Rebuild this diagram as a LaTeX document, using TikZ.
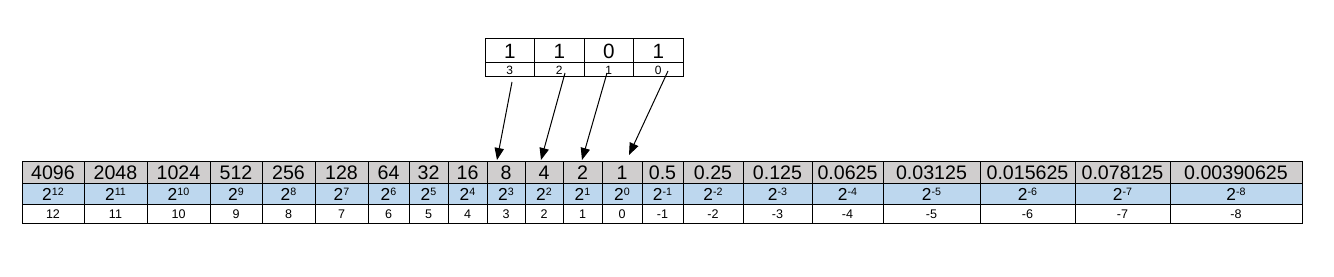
\documentclass[tikz,border=0pt]{standalone}
\usepackage{fontspec}
\setmainfont{Liberation Sans}
\usetikzlibrary{arrows.meta}
\definecolor{hdrgray}{HTML}{D0CECE}
\definecolor{expblue}{HTML}{BDD7EE}
\newcommand{\pwtwo}[1]{2\raisebox{3.6pt}{\fontsize{8}{9}\selectfont #1}}
\begin{document}
\begin{tikzpicture}[x=0.75pt,y=-0.75pt,
  cell/.style={draw=black, line width=0.75pt, inner sep=0pt, outer sep=0pt, anchor=center},
  valcell/.style={cell, fill=hdrgray, minimum height=16.5pt, font=\fontsize{14.7}{16}\selectfont},
  expcell/.style={cell, fill=expblue, minimum height=15.75pt, font=\fontsize{13}{14}\selectfont},
  idxcell/.style={cell, fill=white, minimum height=14.25pt, font=\fontsize{9.4}{10}\selectfont},
  bitcell/.style={cell, fill=white, minimum width=37.125pt, minimum height=18pt, font=\fontsize{15.5}{16}\selectfont},
  poscell/.style={cell, fill=white, minimum width=37.125pt, minimum height=10.5pt, font=\fontsize{9}{10}\selectfont},
  link/.style={draw=black, line width=0.75pt, -{Triangle[length=9pt, width=7pt]}}
]
\useasboundingbox (0,0) rectangle (1334,277);
\foreach \l/\r/\val/\ex [count=\i] in {
  22/84/4096/12, 84/147/2048/11, 147/210/1024/10, 210/262/512/9,
  262/315/256/8, 315/368/128/7, 368/409/64/6, 409/448/32/5,
  448/487/16/4, 487/525/8/3, 525/563/4/2, 563/602/2/1, 602/642/1/0,
  642/683/0.5/-1, 683/743/0.25/-2, 743/812/0.125/-3, 812/883/0.0625/-4,
  883/980/0.03125/-5, 980/1075/0.015625/-6, 1075/1170/0.078125/-7,
  1170/1302/0.00390625/-8} {
  \pgfmathsetmacro\w{(\r-\l)*0.75}
  \node[valcell, minimum width=\w pt] (v\i) at ({(\l+\r)/2},173) {\val};
  \node[expcell, minimum width=\w pt] (p\i) at ({(\l+\r)/2},194.5) {\pwtwo{\ex}};
  \node[idxcell, minimum width=\w pt] (n\i) at ({(\l+\r)/2},214.5) {\ex};
}
\foreach \l/\b/\k in {485/1/3, 534.5/1/2, 584/0/1, 633.5/1/0} {
  \node[bitcell] (b\k) at ({\l+24.75},51) {\b};
  \node[poscell] (k\k) at ({\l+24.75},70) {\k};
}
\coordinate (s3) at (512,82);
\coordinate (t3) at (497,160);
\coordinate (s2) at (565,73);
\coordinate (t2) at (541,160);
\coordinate (s1) at (607,73);
\coordinate (t1) at (582,160);
\coordinate (s0) at (668,71);
\coordinate (t0) at (629,155);
\draw[link] (s3) -- (t3);
\draw[link] (s2) -- (t2);
\draw[link] (s1) -- (t1);
\draw[link] (s0) -- (t0);
\end{tikzpicture}
\end{document}
